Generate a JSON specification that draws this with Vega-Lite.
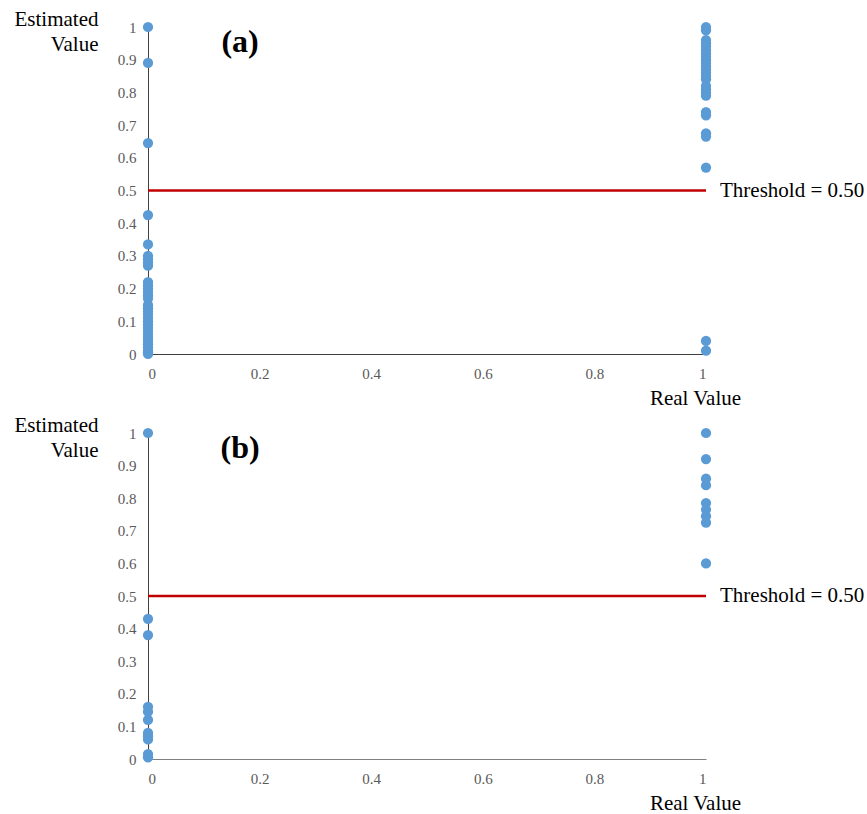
{
  "$schema": "https://vega.github.io/schema/vega-lite/v6.json",
  "padding": {"left": 14, "top": 8, "right": 0, "bottom": 0},
  "spacing": 6,
  "config": {
    "view": {"stroke": null},
    "font": "Liberation Serif",
    "axis": {
      "grid": false,
      "ticks": false,
      "tickSize": 0,
      "labelFont": "Liberation Serif",
      "labelFontSize": 15,
      "labelColor": "#595959",
      "labelPadding": 12,
      "labelOverlap": false,
      "titleFont": "Liberation Serif",
      "titleFontSize": 21,
      "titleFontWeight": "normal",
      "titleColor": "#000000",
      "domainColor": "#404040",
      "domainWidth": 1,
      "zindex": 1
    }
  },
  "datasets": {
    "pts": [
      {"panel": "a", "real": 0, "est": 1.0},
      {"panel": "a", "real": 0, "est": 0.89},
      {"panel": "a", "real": 0, "est": 0.645},
      {"panel": "a", "real": 0, "est": 0.425},
      {"panel": "a", "real": 0, "est": 0.335},
      {"panel": "a", "real": 0, "est": 0.30},
      {"panel": "a", "real": 0, "est": 0.29},
      {"panel": "a", "real": 0, "est": 0.28},
      {"panel": "a", "real": 0, "est": 0.27},
      {"panel": "a", "real": 0, "est": 0.22},
      {"panel": "a", "real": 0, "est": 0.21},
      {"panel": "a", "real": 0, "est": 0.20},
      {"panel": "a", "real": 0, "est": 0.19},
      {"panel": "a", "real": 0, "est": 0.18},
      {"panel": "a", "real": 0, "est": 0.17},
      {"panel": "a", "real": 0, "est": 0.15},
      {"panel": "a", "real": 0, "est": 0.14},
      {"panel": "a", "real": 0, "est": 0.13},
      {"panel": "a", "real": 0, "est": 0.12},
      {"panel": "a", "real": 0, "est": 0.11},
      {"panel": "a", "real": 0, "est": 0.10},
      {"panel": "a", "real": 0, "est": 0.09},
      {"panel": "a", "real": 0, "est": 0.08},
      {"panel": "a", "real": 0, "est": 0.07},
      {"panel": "a", "real": 0, "est": 0.06},
      {"panel": "a", "real": 0, "est": 0.05},
      {"panel": "a", "real": 0, "est": 0.04},
      {"panel": "a", "real": 0, "est": 0.03},
      {"panel": "a", "real": 0, "est": 0.02},
      {"panel": "a", "real": 0, "est": 0.01},
      {"panel": "a", "real": 0, "est": 0.005},
      {"panel": "a", "real": 0, "est": 0.0},
      {"panel": "a", "real": 1, "est": 1.0},
      {"panel": "a", "real": 1, "est": 0.99},
      {"panel": "a", "real": 1, "est": 0.96},
      {"panel": "a", "real": 1, "est": 0.95},
      {"panel": "a", "real": 1, "est": 0.94},
      {"panel": "a", "real": 1, "est": 0.93},
      {"panel": "a", "real": 1, "est": 0.92},
      {"panel": "a", "real": 1, "est": 0.91},
      {"panel": "a", "real": 1, "est": 0.90},
      {"panel": "a", "real": 1, "est": 0.89},
      {"panel": "a", "real": 1, "est": 0.88},
      {"panel": "a", "real": 1, "est": 0.87},
      {"panel": "a", "real": 1, "est": 0.86},
      {"panel": "a", "real": 1, "est": 0.85},
      {"panel": "a", "real": 1, "est": 0.84},
      {"panel": "a", "real": 1, "est": 0.82},
      {"panel": "a", "real": 1, "est": 0.81},
      {"panel": "a", "real": 1, "est": 0.80},
      {"panel": "a", "real": 1, "est": 0.79},
      {"panel": "a", "real": 1, "est": 0.74},
      {"panel": "a", "real": 1, "est": 0.73},
      {"panel": "a", "real": 1, "est": 0.675},
      {"panel": "a", "real": 1, "est": 0.665},
      {"panel": "a", "real": 1, "est": 0.57},
      {"panel": "a", "real": 1, "est": 0.04},
      {"panel": "a", "real": 1, "est": 0.01},
      {"panel": "b", "real": 0, "est": 1.0},
      {"panel": "b", "real": 0, "est": 0.43},
      {"panel": "b", "real": 0, "est": 0.38},
      {"panel": "b", "real": 0, "est": 0.16},
      {"panel": "b", "real": 0, "est": 0.145},
      {"panel": "b", "real": 0, "est": 0.12},
      {"panel": "b", "real": 0, "est": 0.08},
      {"panel": "b", "real": 0, "est": 0.07},
      {"panel": "b", "real": 0, "est": 0.06},
      {"panel": "b", "real": 0, "est": 0.015},
      {"panel": "b", "real": 0, "est": 0.005},
      {"panel": "b", "real": 1, "est": 1.0},
      {"panel": "b", "real": 1, "est": 0.92},
      {"panel": "b", "real": 1, "est": 0.86},
      {"panel": "b", "real": 1, "est": 0.84},
      {"panel": "b", "real": 1, "est": 0.785},
      {"panel": "b", "real": 1, "est": 0.765},
      {"panel": "b", "real": 1, "est": 0.745},
      {"panel": "b", "real": 1, "est": 0.725},
      {"panel": "b", "real": 1, "est": 0.60}
    ],
    "thr": [
      {"panel": "a", "threshold": 0.5, "label": "Threshold = 0.50", "tag": "(a)"},
      {"panel": "b", "threshold": 0.5, "label": "Threshold = 0.50", "tag": "(b)"}
    ]
  },
  "vconcat": [
    {
      "width": 558,
      "height": 327,
      "layer": [
        {
          "data": {"name": "pts"},
          "transform": [{"filter": "datum.panel === 'a'"}],
          "mark": {"type": "circle", "size": 105, "color": "#5B9BD5", "opacity": 1},
          "encoding": {
            "x": {"field": "real", "type": "quantitative", "scale": {"domain": [0, 1], "nice": false},
              "axis": {"values": [0, 0.2, 0.4, 0.6, 0.8, 1], "tickCount": 12, "format": ".1~f", "title": "Real Value", "titleX": 547, "titleY": 33, "titleAlign": "center"}},
            "y": {"field": "est", "type": "quantitative", "scale": {"domain": [0, 1], "nice": false},
              "axis": {"values": [0, 0.1, 0.2, 0.3, 0.4, 0.5, 0.6, 0.7, 0.8, 0.9, 1], "tickCount": 12, "format": ".1~f", "title": ["Estimated", "Value"], "titleAngle": 0, "titleAlign": "right", "titleBaseline": "top", "titleX": -50, "titleY": -19, "titleLineHeight": 25}}
          }
        },
        {
          "data": {"name": "thr"},
          "transform": [{"filter": "datum.panel === 'a'"}],
          "mark": {"type": "rule", "color": "#C00000", "strokeWidth": 2.5},
          "encoding": {"y": {"field": "threshold", "type": "quantitative"}}
        },
        {
          "data": {"name": "thr"},
          "transform": [{"filter": "datum.panel === 'a'"}],
          "mark": {"type": "text", "align": "left", "baseline": "middle", "dx": 14, "fontSize": 21, "font": "Liberation Serif", "color": "#000000"},
          "encoding": {"x": {"datum": 1}, "y": {"field": "threshold", "type": "quantitative"}, "text": {"field": "label"}}
        },
        {
          "data": {"name": "thr"},
          "transform": [{"filter": "datum.panel === 'a'"}],
          "mark": {"type": "text", "align": "center", "baseline": "middle", "fontSize": 32, "fontWeight": "bold", "font": "Liberation Serif", "color": "#000000"},
          "encoding": {"x": {"datum": 0.165}, "y": {"datum": 0.955}, "text": {"field": "tag"}}
        }
      ]
    },
    {
      "width": 558,
      "height": 326,
      "layer": [
        {
          "data": {"name": "pts"},
          "transform": [{"filter": "datum.panel === 'b'"}],
          "mark": {"type": "circle", "size": 105, "color": "#5B9BD5", "opacity": 1},
          "encoding": {
            "x": {"field": "real", "type": "quantitative", "scale": {"domain": [0, 1], "nice": false},
              "axis": {"values": [0, 0.2, 0.4, 0.6, 0.8, 1], "tickCount": 12, "format": ".1~f", "title": "Real Value", "titleX": 547, "titleY": 33, "titleAlign": "center", "domainColor": "#808080"}},
            "y": {"field": "est", "type": "quantitative", "scale": {"domain": [0, 1], "nice": false},
              "axis": {"values": [0, 0.1, 0.2, 0.3, 0.4, 0.5, 0.6, 0.7, 0.8, 0.9, 1], "tickCount": 12, "format": ".1~f", "title": ["Estimated", "Value"], "titleAngle": 0, "titleAlign": "right", "titleBaseline": "top", "titleX": -50, "titleY": -19, "titleLineHeight": 25}}
          }
        },
        {
          "data": {"name": "thr"},
          "transform": [{"filter": "datum.panel === 'b'"}],
          "mark": {"type": "rule", "color": "#C00000", "strokeWidth": 2.5},
          "encoding": {"y": {"field": "threshold", "type": "quantitative"}}
        },
        {
          "data": {"name": "thr"},
          "transform": [{"filter": "datum.panel === 'b'"}],
          "mark": {"type": "text", "align": "left", "baseline": "middle", "dx": 14, "fontSize": 21, "font": "Liberation Serif", "color": "#000000"},
          "encoding": {"x": {"datum": 1}, "y": {"field": "threshold", "type": "quantitative"}, "text": {"field": "label"}}
        },
        {
          "data": {"name": "thr"},
          "transform": [{"filter": "datum.panel === 'b'"}],
          "mark": {"type": "text", "align": "center", "baseline": "middle", "fontSize": 32, "fontWeight": "bold", "font": "Liberation Serif", "color": "#000000"},
          "encoding": {"x": {"datum": 0.165}, "y": {"datum": 0.955}, "text": {"field": "tag"}}
        }
      ]
    }
  ]
}
